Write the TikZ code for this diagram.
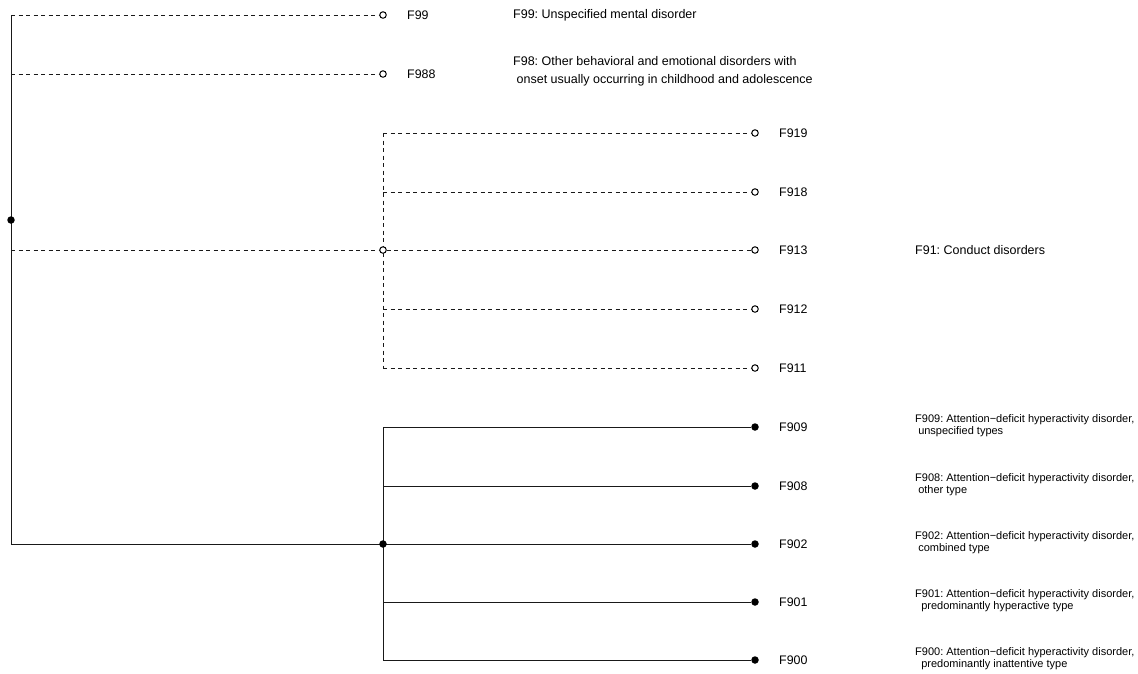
\documentclass[tikz,border=0pt]{standalone}
\usepackage{fontspec}
\setmainfont{Liberation Sans}
\frenchspacing
\begin{document}
\begin{tikzpicture}[x=1pt,y=-1pt,
  solidln/.style={line width=1pt,draw=black!90},
  dashln/.style={line width=1pt,draw=black!90,dash pattern=on 4pt off 3.5pt},
  opendot/.style={circle,draw=black,line width=1pt,fill=white,inner sep=0pt,minimum size=6.5pt},
  fulldot/.style={circle,fill=black,inner sep=0pt,minimum size=7.5pt},
  code/.style={anchor=west,font=\fontsize{12.4}{14}\selectfont,inner sep=0pt},
  desc/.style={anchor=west,font=\fontsize{12.5}{17.5}\selectfont,inner sep=0pt,align=left},
  descs/.style={anchor=west,font=\fontsize{11}{12}\selectfont,inner sep=0pt,align=left}]
\useasboundingbox (0,0) rectangle (1138,673);
% root spine
\coordinate (rtop) at (11,15);
\coordinate (rbot) at (11,544);
\coordinate (r91) at (11,250);
\draw[solidln] (rtop) -- (rbot);
% F91 cluster
\coordinate (c91top) at (383,133);
\coordinate (c91bot) at (383,368);
\draw[dashln] (c91top) -- (c91bot);
\foreach \n/\y in {919/133,918/192,912/309,911/368}{
  \coordinate (s\n) at (383,\y);
  \node[opendot] (l\n) at (755,\y) {};
  \draw[dashln] (s\n) -- (l\n);
  \node[code] (t\n) at (779,\y) {F\n};
}
\node[opendot] (j91) at (383,250) {};
\node[opendot] (l913) at (755,250) {};
\draw[dashln] (r91) -- (j91);
\draw[dashln] (j91) -- (l913);
\node[code] (t913) at (779,250) {F913};
% F99, F988
\node[opendot] (l99) at (383,15) {};
\node[opendot] (l988) at (383,74) {};
\draw[dashln] (rtop) -- (l99);
\coordinate (r988) at (11,74);
\draw[dashln] (r988) -- (l988);
\node[code] (t99) at (407,15) {F99};
\node[code] (t988) at (407,74) {F988};
% F90 cluster
\coordinate (c90top) at (383,427);
\coordinate (c90bot) at (383,660);
\draw[solidln] (c90top) -- (c90bot);
\draw[solidln] (rbot) -- (383,544);
\foreach \n/\y in {909/427,908/486,902/544,901/602,900/660}{
  \coordinate (s\n) at (383,\y);
  \node[fulldot] (l\n) at (755,\y) {};
  \draw[solidln] (s\n) -- (l\n);
  \node[code] (t\n) at (779,\y) {F\n};
}
\node[fulldot] (j90) at (383,544) {};
\node[fulldot] (jroot) at (11,220) {};
% descriptions
\node[desc] (d99) at (513,15) {F99: Unspecified mental disorder};
\node[desc] (d98) at (513,71.5) {F98: Other behavioral and emotional disorders with\\ \ onset usually occurring in childhood and adolescence};
\node[desc] (d91) at (915,250) {F91: Conduct disorders};
\node[descs] (d909) at (915,426) {F909: Attention\textminus deficit hyperactivity disorder,\\ \ unspecified types};
\node[descs] (d908) at (915,485) {F908: Attention\textminus deficit hyperactivity disorder,\\ \ other type};
\node[descs] (d902) at (915,543) {F902: Attention\textminus deficit hyperactivity disorder,\\ \ combined type};
\node[descs] (d901) at (915,601) {F901: Attention\textminus deficit hyperactivity disorder,\\ \ \ predominantly hyperactive type};
\node[descs] (d900) at (915,659) {F900: Attention\textminus deficit hyperactivity disorder,\\ \ \ predominantly inattentive type};
\end{tikzpicture}
\end{document}
